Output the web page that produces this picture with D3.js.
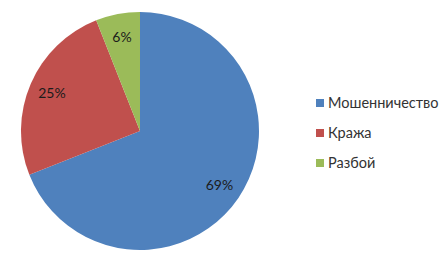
<!DOCTYPE html>
<html>
<head>
<meta charset="utf-8">
<script src="https://cdn.jsdelivr.net/npm/d3@7"></script>
<style>
  body { margin: 0; background: #fff; }
  text { font-family: Lato, "Open Sans", sans-serif; }
</style>
</head>
<body>
<script>
// chart data
const categories = ["Мошенничество", "Кража", "Разбой"];
const values = [69, 25, 6];
const colors = ["#4F81BD", "#C0504D", "#9BBB59"];

const width = 444, height = 257;
const cx = 140, cy = 131, radius = 119;

const svg = d3.select("body").append("svg")
    .attr("width", width)
    .attr("height", height);

const pie = d3.pie().sort(null).value(d => d)(values);
const arc = d3.arc().innerRadius(0).outerRadius(radius);
const labelArc = d3.arc().innerRadius(96).outerRadius(96);

const g = svg.append("g").attr("transform", `translate(${cx},${cy})`);

g.selectAll("path")
    .data(pie)
    .enter().append("path")
    .attr("d", arc)
    .attr("fill", (d, i) => colors[i]);

// percent labels
g.selectAll("text")
    .data(pie)
    .enter().append("text")
    .attr("transform", d => `translate(${labelArc.centroid(d)})`)
    .attr("text-anchor", "middle")
    .attr("dy", "0.35em")
    .attr("font-size", 14)
    .attr("fill", "#1b1b1b")
    .text(d => d.data + "%");

// legend
const legend = svg.append("g").attr("transform", "translate(316,103)");
const rows = legend.selectAll("g")
    .data(categories)
    .enter().append("g")
    .attr("transform", (d, i) => `translate(0,${i * 30})`);

rows.append("rect")
    .attr("x", 0).attr("y", -4)
    .attr("width", 8).attr("height", 8)
    .attr("fill", (d, i) => colors[i]);

rows.append("text")
    .attr("x", 12)
    .attr("dy", "0.35em")
    .attr("font-size", 14.5)
    .attr("fill", "#333")
    .text(d => d);
</script>
</body>
</html>
